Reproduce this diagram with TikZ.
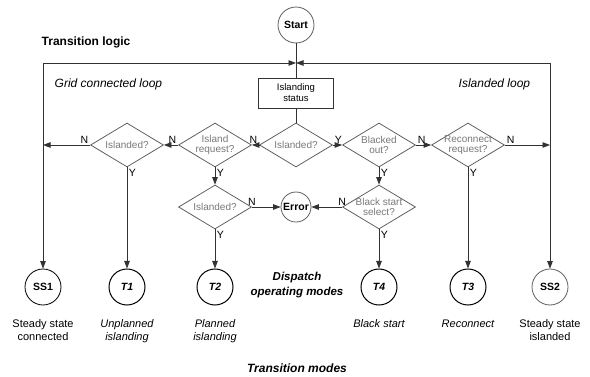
\documentclass[tikz,border=0pt]{standalone}
\usepackage{fontspec}
\setmainfont{Liberation Sans}
\usetikzlibrary{shapes.geometric,arrows.meta}
\definecolor{linegray}{RGB}{50,50,50}
\definecolor{boxgray}{RGB}{95,95,95}
\definecolor{textgray}{RGB}{120,120,120}
\tikzset{
  decision/.style={diamond, draw=boxgray, text=textgray, aspect=1.65, inner sep=-4pt,
    minimum width=73pt, minimum height=44pt, align=center,
    font=\fontsize{10}{10.5}\selectfont},
  statenode/.style={circle, draw=boxgray, minimum size=36pt, inner sep=0pt,
    font=\bfseries\fontsize{10.5}{12}\selectfont},
  trans/.style={statenode, draw=black, line width=1pt,
    font=\bfseries\itshape\fontsize{10.5}{12}\selectfont},
  yn/.style={inner sep=1.5pt, font=\fontsize{10.5}{11}\selectfont},
  arr/.style={-{Triangle[length=7.5pt,width=5.5pt]}},
  caption/.style={align=center, anchor=north, font=\fontsize{11}{13}\selectfont},
  itcaption/.style={caption, font=\itshape\fontsize{11}{13}\selectfont},
}
\begin{document}
\begin{tikzpicture}[x=1pt,y=-1pt,line width=0.8pt,draw=linegray]
				\useasboundingbox (0,0) rectangle (590,377);
				
				\node (title) [anchor=west, font=\bfseries\fontsize{12}{14}\selectfont] at (38,42) {Transition logic};
				\node (gridloop) [anchor=west, font=\itshape\fontsize{12}{14}\selectfont] at (51,84) {Grid connected loop};
				\node (islloop) [anchor=west, font=\itshape\fontsize{12}{14}\selectfont] at (455,84) {Islanded loop};
				
				\node (start) [statenode] at (296,25) {Start};
				\node (status) [draw=linegray, minimum width=75pt, minimum height=30pt, inner sep=1pt, align=center,
					font=\fontsize{9.5}{11}\selectfont] at (296,93) {Islanding\\status};
				
				\coordinate (jn) at (296,63);
				\coordinate (tl) at (43,63);
				\coordinate (tr) at (550,63);
				\coordinate (gl) at (43,145);
				\coordinate (gr) at (550,145);
				
				\node (isla) [decision] at (127,145) {Islanded?};
				\node (ireq) [decision] at (215,145) {Island\\request?};
				\node (isl0) [decision] at (296,145) {Islanded?};
				\node (bout) [decision] at (379,145) {Blacked\\out?};
				\node (rreq) [decision] at (468,145) {Reconnect\\request?};
				
				\node (islb) [decision] at (215,207) {Islanded?};
				\node (err) [statenode, minimum size=30pt] at (296,207) {Error};
				\node (bss) [decision] at (379,207) {Black start\\select?};
				
				\node (ss1) [statenode, draw=black] at (43,287) {SS1};
				\node (t1) [trans] at (127,287) {T1};
				\node (t2) [trans] at (215,287) {T2};
				\node (t4) [trans] at (379,287) {T4};
				\node (t3) [trans] at (468,287) {T3};
				\node (ss2) [statenode] at (550,287) {SS2};
				
				\node (c1) [caption] at (43,316) {Steady state\\connected};
				\node (c2) [itcaption] at (127,316) {Unplanned\\islanding};
				\node (c3) [itcaption] at (215,316) {Planned\\islanding};
				\node (c4) [itcaption] at (379,316) {Black start};
				\node (c5) [itcaption] at (468,316) {Reconnect};
				\node (c6) [caption] at (550,316) {Steady state\\islanded};
				
				\node (dispatch) [align=center, font=\bfseries\itshape\fontsize{11.5}{15}\selectfont] at (297,285) {Dispatch\\operating modes};
				\node (tmodes) [font=\bfseries\itshape\fontsize{12}{14}\selectfont] at (297,368) {Transition modes};
				
				% loops
				\draw (start) -- (status) -- (isl0);
				\draw[arr] (tl) -- (jn);
				\draw[arr] (tr) -- (jn);
				\draw[arr] (tl) -- (ss1);
				\draw[arr] (tr) -- (ss2);
				
				% grid connected side
				\draw[arr] (isl0.west) -- (ireq.east) node[yn, pos=0, above left] {N};
				\draw[arr] (ireq.west) -- (isla.east) node[yn, pos=0, above left] {N};
				\draw[arr] (isla.west) -- (gl) node[yn, pos=0, above left] {N};
				\draw[arr] (isla.south) -- (t1) node[yn, pos=0, below right] {Y};
				\draw[arr] (ireq.south) -- (islb.north) node[yn, pos=0, below right] {Y};
				\draw[arr] (islb.south) -- (t2) node[yn, pos=0, below right] {Y};
				\draw[arr] (islb.east) -- (err) node[yn, pos=0, above] {N};
				
				% islanded side
				\draw[arr] (isl0.east) -- (bout.west) node[yn, pos=0, above right] {Y};
				\draw[arr] (bout.east) -- (rreq.west) node[yn, pos=0, above right] {N};
				\draw[arr] (rreq.east) -- (gr) node[yn, pos=0, above right] {N};
				\draw[arr] (rreq.south) -- (t3) node[yn, pos=0, below right] {Y};
				\draw[arr] (bout.south) -- (bss.north) node[yn, pos=0, below right] {Y};
				\draw[arr] (bss.south) -- (t4) node[yn, pos=0, below right] {Y};
				\draw[arr] (bss.west) -- (err) node[yn, pos=0, above] {N};
			\end{tikzpicture}
\end{document}
